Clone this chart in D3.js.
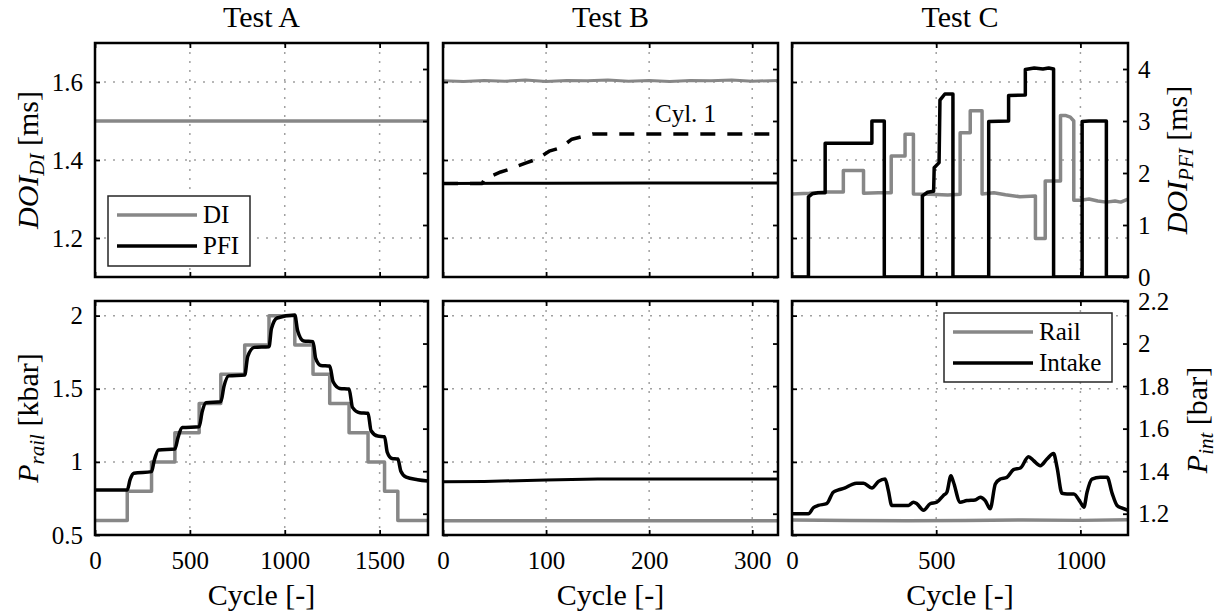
<!DOCTYPE html>
<html>
<head>
<meta charset="utf-8">
<script src="https://cdn.jsdelivr.net/npm/d3@7"></script>
<style>
  body { margin: 0; background: #fff; }
  text { font-family: "Liberation Serif", "Times New Roman", serif; fill: #000; }
</style>
</head>
<body>
<svg id="chart" width="1223" height="615"></svg>
<script>
// colours used for the two series in every panel
var GRAY = "#878787", BLACK = "#000";

// x axes: Cycle [-]
var cycleMaxA = 1755, cycleMaxB = 325, cycleMaxC = 1165;
var cycleTicksA = [0, 500, 1000, 1500];
var cycleTicksB = [0, 100, 200, 300];
var cycleTicksC = [0, 500, 1000];

// y axes
var doiDiRange = [1.1, 1.7], doiDiTicks = [1.2, 1.4, 1.6];
var doiPfiRange = [0, 4.5], doiPfiTicks = [0, 1, 2, 3, 4];
var pRailRange = [0.5, 2.1], pRailTicks = [0.5, 1, 1.5, 2];
var pIntRange = [1.1, 2.2], pIntTicks = [1.2, 1.4, 1.6, 1.8, 2, 2.2];

var titles = ["Test A", "Test B", "Test C"];

// ---- Test A ----
var diA = [[0, 1.5], [1755, 1.5]];
// rail pressure steps (kbar), value holds until next cycle
var railA = [[0, 0.6], [170, 0.8], [298, 1.0], [421, 1.2], [549, 1.4], [663, 1.6], [789, 1.8], [917, 2.0],
             [1053, 1.8], [1149, 1.6], [1237, 1.4], [1339, 1.2], [1439, 1.0], [1526, 0.8], [1596, 0.6], [1755, 0.6]];
// intake pressure (bar)
var intakeA = [[0, 1.312], [170, 1.312], [185, 1.36], [205, 1.39], [298, 1.398], [312, 1.45], [335, 1.50],
               [421, 1.504], [438, 1.56], [460, 1.605], [549, 1.609], [565, 1.68], [585, 1.722], [663, 1.726],
               [680, 1.80], [705, 1.848], [789, 1.852], [805, 1.94], [840, 1.982], [917, 1.985], [930, 2.07],
               [960, 2.12], [1053, 2.134], [1068, 2.06], [1100, 2.012], [1149, 2.009], [1163, 1.93], [1190, 1.897],
               [1237, 1.894], [1255, 1.82], [1290, 1.789], [1339, 1.786], [1357, 1.70], [1395, 1.675],
               [1439, 1.672], [1455, 1.59], [1490, 1.565], [1526, 1.562], [1540, 1.49], [1565, 1.46],
               [1596, 1.457], [1612, 1.40], [1640, 1.372], [1700, 1.36], [1755, 1.354]];

// ---- Test B ----
var diB = [[0, 1.603], [20, 1.601], [40, 1.604], [60, 1.602], [80, 1.605], [100, 1.601], [120, 1.604],
           [140, 1.603], [160, 1.605], [180, 1.602], [200, 1.604], [220, 1.601], [240, 1.604], [260, 1.603],
           [280, 1.605], [300, 1.602], [325, 1.604]];
var pfiB = [[0, 1.80], [100, 1.805], [200, 1.81], [325, 1.81]];
// cylinder 1 PFI duration, stepped ramp
var pfiCyl1B = [[0, 1.80], [38, 1.80], [41, 1.90], [48, 1.95], [56, 2.02], [66, 2.08], [72, 2.13], [80, 2.19],
                [90, 2.26], [96, 2.33], [103, 2.42], [113, 2.48], [119, 2.56], [125, 2.65], [137, 2.71],
                [145, 2.75], [325, 2.75]];
var railB = [[0, 0.598], [325, 0.598]];
var intakeB = [[0, 1.35], [40, 1.352], [100, 1.358], [150, 1.363], [325, 1.363]];

// ---- Test C ----
var diC = [[0, 1.313], [60, 1.315], [120, 1.318], [178, 1.318], [178, 1.373], [248, 1.373], [248, 1.315],
           [300, 1.316], [344, 1.316], [344, 1.41], [392, 1.41], [392, 1.466], [421, 1.466], [421, 1.313],
           [480, 1.312], [540, 1.310], [583, 1.312], [583, 1.47], [618, 1.47], [618, 1.526], [659, 1.526],
           [659, 1.313], [700, 1.316], [740, 1.311], [790, 1.306], [844, 1.308], [844, 1.199], [878, 1.199],
           [878, 1.346], [931, 1.346], [931, 1.514], [950, 1.514], [965, 1.51], [977, 1.50], [977, 1.297],
           [1000, 1.297], [1030, 1.30], [1060, 1.295], [1090, 1.292], [1120, 1.295], [1140, 1.292], [1165, 1.30]];
var pfiC = [[0, 0], [57, 0], [57, 1.54], [70, 1.6], [90, 1.62], [115, 1.62], [115, 2.57], [277, 2.57],
            [277, 3.0], [320, 3.0], [320, 0], [452, 0], [452, 1.56], [470, 1.63], [491, 1.65], [493, 2.1],
            [510, 2.2], [513, 3.4], [530, 3.52], [558, 3.52], [558, 0], [682, 0], [682, 2.99], [751, 3.0],
            [751, 3.49], [809, 3.5], [809, 3.99], [840, 4.02], [870, 4.0], [890, 4.02], [907, 4.0], [907, 0],
            [1006, 0], [1006, 2.99], [1030, 3.0], [1090, 3.0], [1090, 0], [1165, 0]];
var railC = [[0, 0.602], [200, 0.600], [400, 0.598], [600, 0.600], [800, 0.603], [1000, 0.600], [1165, 0.605]];
var intakeC = [[0, 1.2], [57, 1.2], [74, 1.228], [91, 1.239], [120, 1.247], [143, 1.301], [161, 1.312],
               [184, 1.321], [207, 1.337], [224, 1.343], [248, 1.343], [277, 1.321], [300, 1.352],
               [323, 1.363], [334, 1.309], [346, 1.239], [358, 1.239], [404, 1.239], [421, 1.254],
               [433, 1.247], [456, 1.216], [479, 1.247], [502, 1.254], [525, 1.286], [537, 1.301],
               [551, 1.379], [560, 1.348], [583, 1.254], [606, 1.262], [635, 1.265], [653, 1.278],
               [670, 1.262], [687, 1.223], [705, 1.34], [722, 1.363], [745, 1.371], [768, 1.407],
               [792, 1.415], [820, 1.468], [838, 1.449], [861, 1.426], [884, 1.457], [907, 1.483],
               [919, 1.418], [936, 1.296], [954, 1.293], [977, 1.293], [1000, 1.254], [1012, 1.231],
               [1023, 1.301], [1040, 1.363], [1069, 1.371], [1093, 1.371], [1110, 1.296], [1127, 1.239],
               [1145, 1.226], [1165, 1.216]];

// panel placement
var colX = [[95, 428], [443, 778], [792, 1128]];
var rowY = [[43, 277], [301, 535]];

var svg = d3.select("#chart");
var panelId = 0;

function drawPanel(p) {
  var x0 = colX[p.col][0], x1 = colX[p.col][1];
  var y0 = rowY[p.row][0], y1 = rowY[p.row][1];

  var x = d3.scaleLinear().domain([0, p.xMax]).range([x0, x1]);
  var yL = d3.scaleLinear().domain(p.yL).range([y1, y0]);
  var yR = d3.scaleLinear().domain(p.yR).range([y1, y0]);

  var g = svg.append("g");
  var clipId = "clip" + (panelId++);
  g.append("clipPath").attr("id", clipId)
    .append("rect").attr("x", x0).attr("y", y0).attr("width", x1 - x0).attr("height", y1 - y0);

  // dotted grid on left ticks and x ticks
  g.selectAll(".gx").data(p.xTicks.filter(function(t) { return x(t) > x0 + 2 && x(t) < x1 - 2; }))
    .enter().append("line")
    .attr("x1", function(d) { return x(d); }).attr("x2", function(d) { return x(d); })
    .attr("y1", y0).attr("y2", y1)
    .attr("stroke", "#a0a0a0").attr("stroke-width", 1.5).attr("stroke-dasharray", "2,7");
  g.selectAll(".gy").data(p.yLTicks.filter(function(t) { return yL(t) > y0 + 2 && yL(t) < y1 - 2; }))
    .enter().append("line")
    .attr("y1", function(d) { return yL(d); }).attr("y2", function(d) { return yL(d); })
    .attr("x1", x0).attr("x2", x1)
    .attr("stroke", "#a0a0a0").attr("stroke-width", 1.5).attr("stroke-dasharray", "2,7");

  // series
  p.series.forEach(function(s) {
    var sc = s.axis == "right" ? yR : yL;
    var line = d3.line()
      .x(function(d) { return x(d[0]); })
      .y(function(d) { return sc(d[1]); })
      .curve(s.curve || d3.curveLinear);
    g.append("path")
      .datum(s.data)
      .attr("clip-path", "url(#" + clipId + ")")
      .attr("d", line)
      .attr("fill", "none")
      .attr("stroke", s.color)
      .attr("stroke-width", s.width || 3)
      .attr("stroke-linejoin", "round")
      .attr("stroke-dasharray", s.dash || null);
  });

  // frame
  g.append("rect").attr("x", x0).attr("y", y0).attr("width", x1 - x0).attr("height", y1 - y0)
    .attr("fill", "none").attr("stroke", "#000").attr("stroke-width", 2.5);

  var noLabel = function() { return ""; };

  // axes, ticks pointing inward
  var left = g.append("g").attr("transform", "translate(" + x0 + ",0)")
    .call(d3.axisLeft(yL).tickValues(p.yLTicks).tickSize(-5).tickPadding(12)
      .tickFormat(p.showLeft ? d3.format("") : noLabel));
  var right = g.append("g").attr("transform", "translate(" + x1 + ",0)")
    .call(d3.axisRight(yR).tickValues(p.yRTicks).tickSize(-5).tickPadding(10)
      .tickFormat(p.showRight ? d3.format("") : noLabel));
  var bottom = g.append("g").attr("transform", "translate(0," + y1 + ")")
    .call(d3.axisBottom(x).tickValues(p.xTicks).tickSize(-5).tickPadding(16)
      .tickFormat(p.row == 1 ? d3.format("") : noLabel));
  var top = g.append("g").attr("transform", "translate(0," + y0 + ")")
    .call(d3.axisTop(x).tickValues(p.xTicks).tickSize(-5).tickFormat(noLabel));

  [left, right, bottom, top].forEach(function(a) {
    a.select(".domain").remove();
    a.attr("font-family", null).attr("font-size", 25);
    a.selectAll("line").attr("stroke", "#000").attr("stroke-width", 1.8);
  });

  if (p.row == 0) {
    svg.append("text").attr("x", (x0 + x1) / 2).attr("y", 27)
      .attr("text-anchor", "middle").attr("font-size", 30).text(titles[p.col]);
  } else {
    svg.append("text").attr("x", (x0 + x1) / 2).attr("y", 605)
      .attr("text-anchor", "middle").attr("font-size", 30).text("Cycle [-]");
  }
}

drawPanel({col: 0, row: 0, xMax: cycleMaxA, xTicks: cycleTicksA, yL: doiDiRange, yLTicks: doiDiTicks,
  yR: doiPfiRange, yRTicks: doiPfiTicks, showLeft: true,
  series: [{data: diA, color: GRAY, width: 3.5}]});
drawPanel({col: 1, row: 0, xMax: cycleMaxB, xTicks: cycleTicksB, yL: doiDiRange, yLTicks: doiDiTicks,
  yR: doiPfiRange, yRTicks: doiPfiTicks,
  series: [{data: diB, color: GRAY, width: 3},
           {data: pfiB, color: BLACK, axis: "right", width: 3},
           {data: pfiCyl1B, color: BLACK, axis: "right", width: 3.5, dash: "15,12"}]});
drawPanel({col: 2, row: 0, xMax: cycleMaxC, xTicks: cycleTicksC, yL: doiDiRange, yLTicks: doiDiTicks,
  yR: doiPfiRange, yRTicks: doiPfiTicks, showRight: true,
  series: [{data: diC, color: GRAY, width: 3.5},
           {data: pfiC, color: BLACK, axis: "right", width: 3.5}]});
drawPanel({col: 0, row: 1, xMax: cycleMaxA, xTicks: cycleTicksA, yL: pRailRange, yLTicks: pRailTicks,
  yR: pIntRange, yRTicks: pIntTicks, showLeft: true,
  series: [{data: railA, color: GRAY, width: 3.5, curve: d3.curveStepAfter},
           {data: intakeA, color: BLACK, axis: "right", width: 3.5, curve: d3.curveMonotoneX}]});
drawPanel({col: 1, row: 1, xMax: cycleMaxB, xTicks: cycleTicksB, yL: pRailRange, yLTicks: pRailTicks,
  yR: pIntRange, yRTicks: pIntTicks,
  series: [{data: railB, color: GRAY, width: 3.5},
           {data: intakeB, color: BLACK, axis: "right", width: 3}]});
drawPanel({col: 2, row: 1, xMax: cycleMaxC, xTicks: cycleTicksC, yL: pRailRange, yLTicks: pRailTicks,
  yR: pIntRange, yRTicks: pIntTicks, showRight: true,
  series: [{data: railC, color: GRAY, width: 3.5},
           {data: intakeC, color: BLACK, axis: "right", width: 3.5, curve: d3.curveMonotoneX}]});

// axis titles with subscripts
function yLabel(x, y, main, sub, unit) {
  var t = svg.append("text").attr("transform", "translate(" + x + "," + y + ") rotate(-90)")
    .attr("text-anchor", "middle").attr("font-size", 30);
  t.append("tspan").attr("font-style", "italic").text(main);
  t.append("tspan").attr("font-style", "italic").attr("font-size", 21).attr("dy", 6).text(sub);
  t.append("tspan").attr("dy", -6).text("\u00a0[" + unit + "]");
}
yLabel(38, 160, "DOI", "DI", "ms");
yLabel(38, 418, "P", "rail", "kbar");
yLabel(1187, 160, "DOI", "PFI", "ms");
yLabel(1207, 420, "P", "int", "bar");

// "Cyl. 1" note
svg.append("text").attr("x", 655).attr("y", 122).attr("font-size", 25).text("Cyl.\u00a01");

// legends
function legend(x, y, w, h, items) {
  var g = svg.append("g");
  g.append("rect").attr("x", x).attr("y", y).attr("width", w).attr("height", h)
    .attr("fill", "#fff").attr("stroke", "#262626").attr("stroke-width", 1.5);
  items.forEach(function(it, i) {
    var ly = y + 19 + i * 31;
    g.append("line").attr("x1", x + 9).attr("x2", x + 89).attr("y1", ly).attr("y2", ly)
      .attr("stroke", it.color).attr("stroke-width", 3.5);
    g.append("text").attr("x", x + 95).attr("y", ly + 8).attr("font-size", 25).text(it.label);
  });
}
legend(108, 196, 142, 70, [{label: "DI", color: GRAY}, {label: "PFI", color: BLACK}]);
legend(944, 313, 168, 69, [{label: "Rail", color: GRAY}, {label: "Intake", color: BLACK}]);
</script>
</body>
</html>
